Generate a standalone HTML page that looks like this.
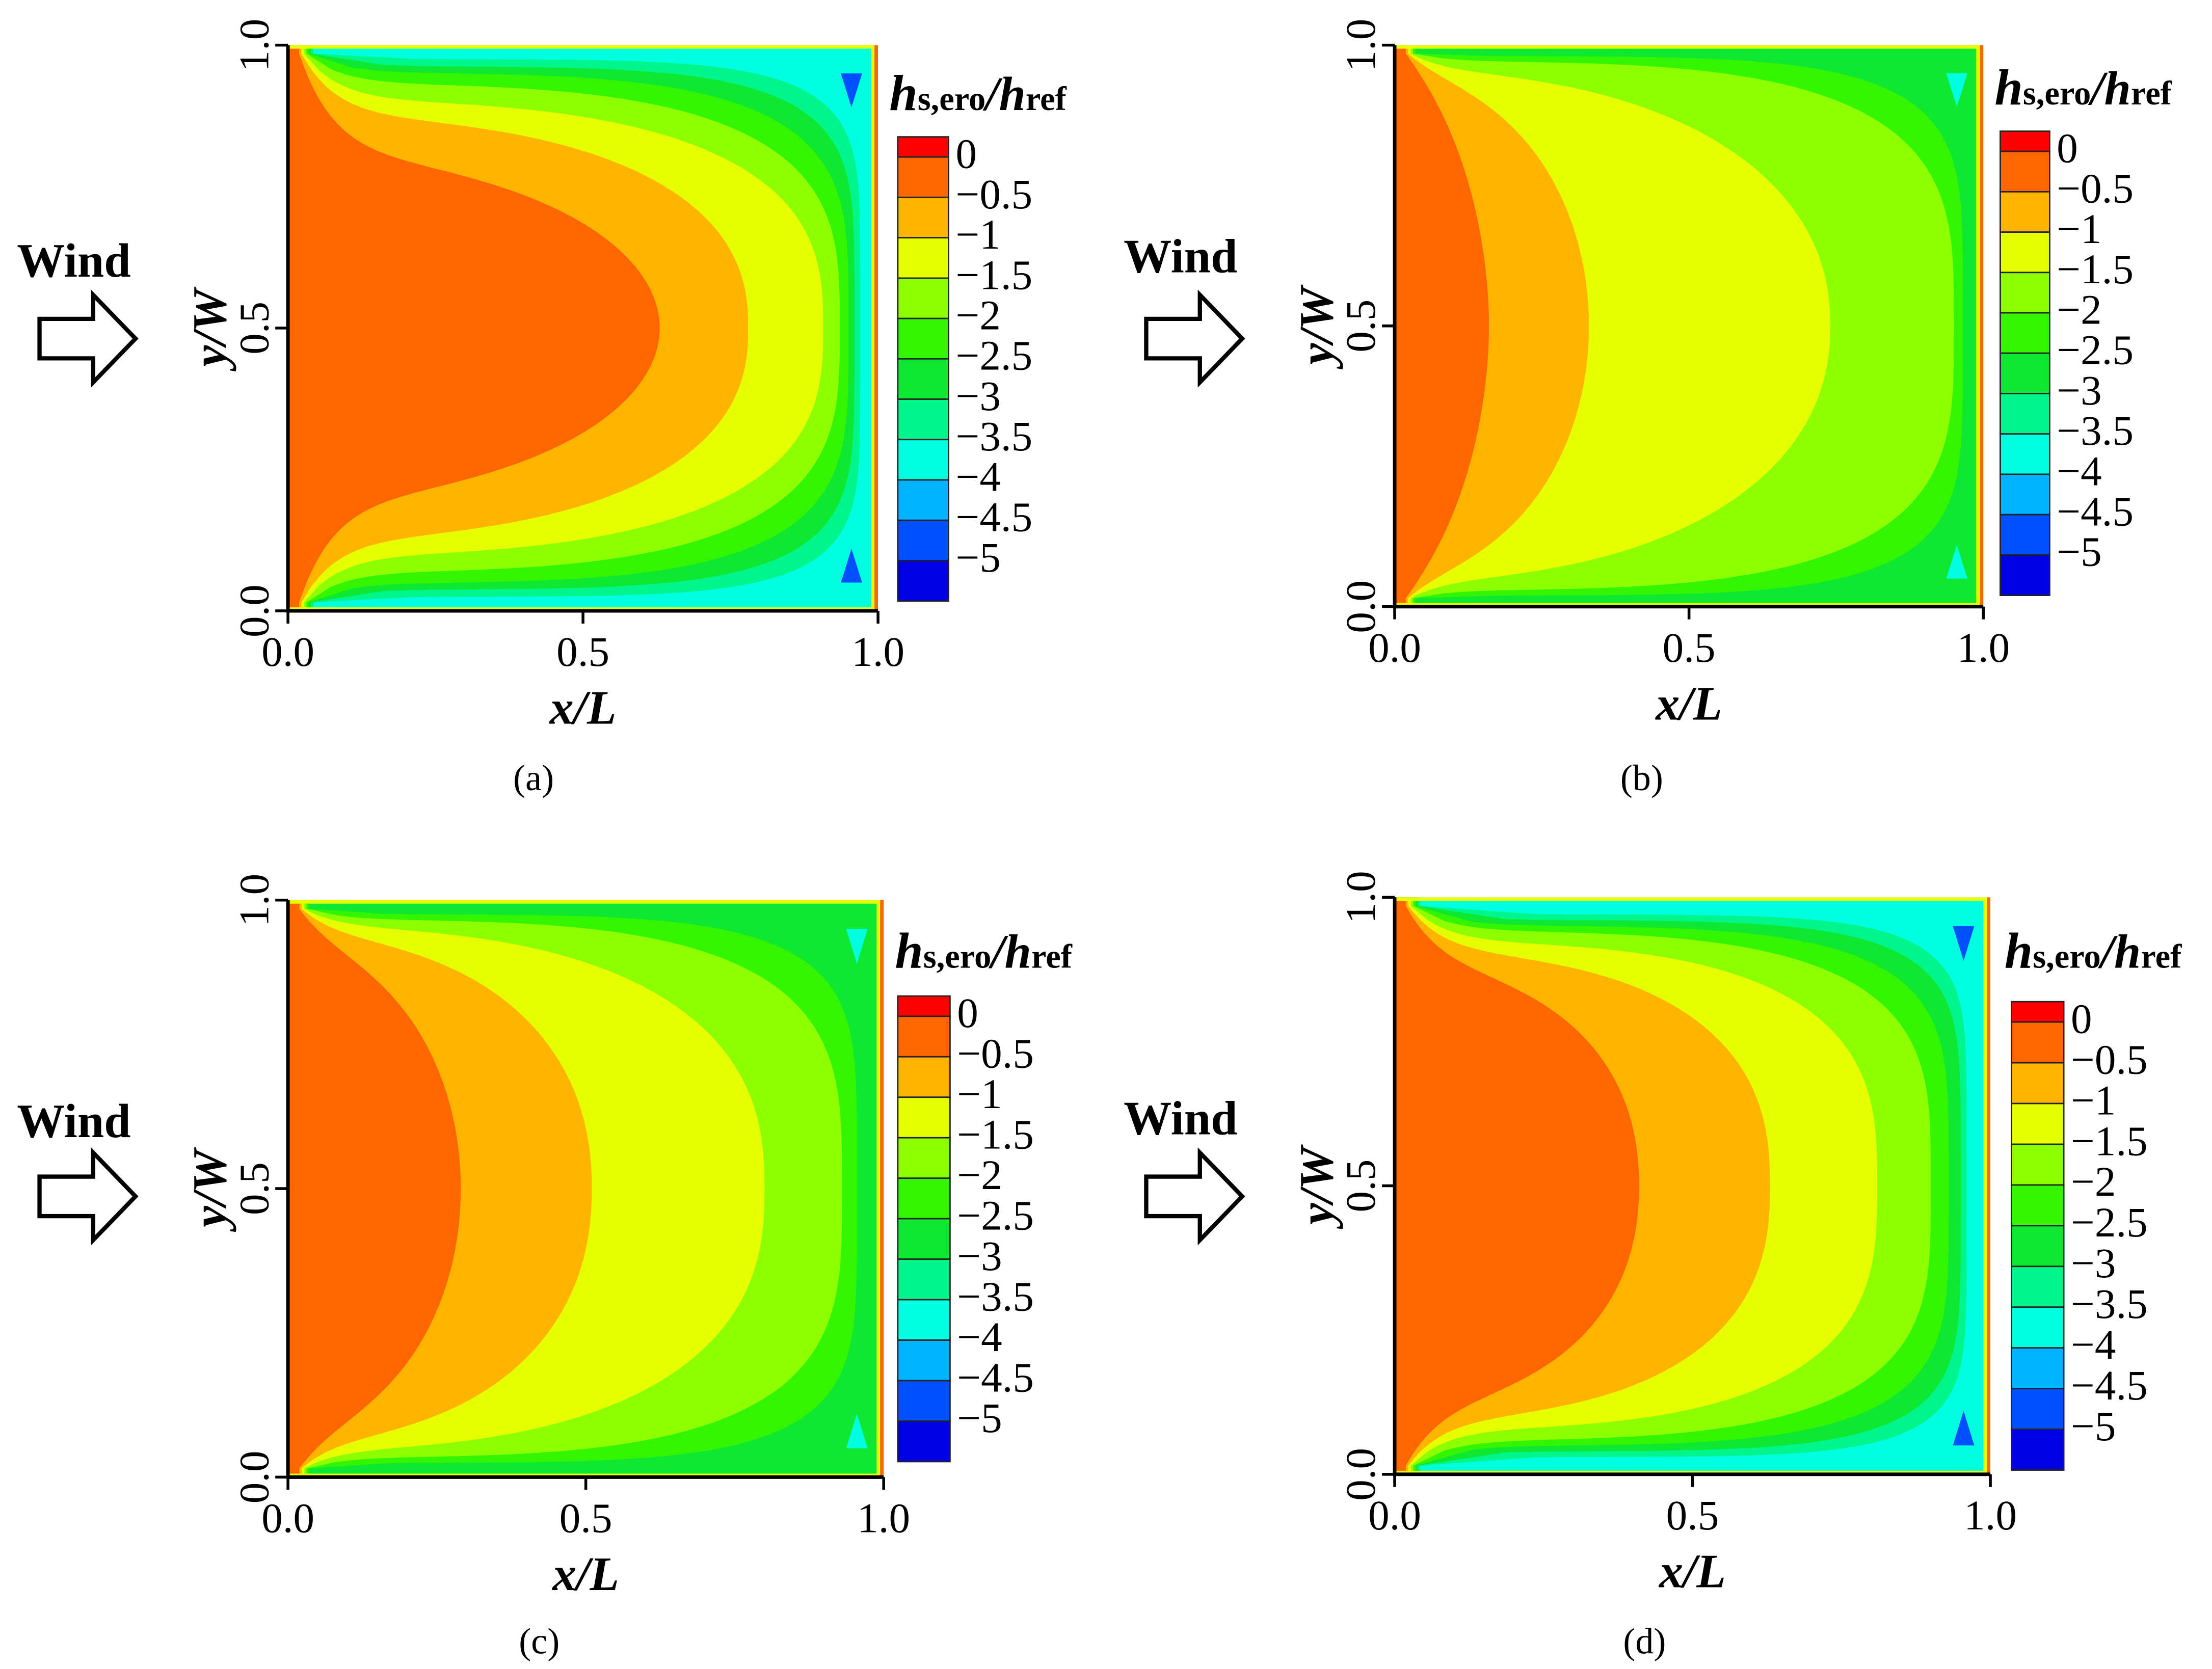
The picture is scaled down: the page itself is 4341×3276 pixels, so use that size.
<!DOCTYPE html>
<html><head><meta charset="utf-8"><style>
html,body{margin:0;padding:0;background:#fff;}
svg{display:block;}
text{font-family:"Liberation Serif",serif;fill:#000;}
</style></head><body>
<svg id="fig" width="4341" height="3276" viewBox="0 0 1567 1183" preserveAspectRatio="none" xmlns="http://www.w3.org/2000/svg"></svg>
<script>
// Colour levels (0 to -5 by -0.5, plus the lowest band)
const levelColors = ["#ff0000","#ff6600","#ffb400","#e6ff00","#8cff00","#33f500","#0ee830","#00f58a","#00ffe0","#00b4ff","#0050ff","#0000e6"];
const levelLabels = ["0","\u22120.5","\u22121","\u22121.5","\u22122","\u22122.5","\u22123","\u22123.5","\u22124","\u22124.5","\u22125"];
const tickLabels = ["0.0","0.5","1.0"];
const tickValues = [0,0.5,1];
// Contour boundaries per panel: tip x/L at y/W=0.5, shoulder y/W, shape exponent, for levels 1..(bg-1)
const bgLevelA = 8;
const tipsA = [0.63,0.78,0.907,0.935,0.95,0.96,0.97];
const shouldersA = [0.80,0.87,0.90,0.93,0.95,0.962,0.975];
const expA = [2.0,2.4,2.8,3.3,4,5,6];
const bgLevelB = 6;
const tipsB = [0.16,0.33,0.74,0.95,0.965];
const shouldersB = [0.90,0.93,0.95,0.97,0.98];
const expB = [1.8,2,2.2,3.5,5];
const bgLevelC = 6;
const tipsC = [0.29,0.51,0.80,0.93,0.955];
const shouldersC = [0.90,0.93,0.95,0.965,0.975];
const expC = [2,2.2,2.5,3.5,5];
const bgLevelD = 8;
const tipsD = [0.41,0.63,0.81,0.90,0.93,0.95,0.96];
const shouldersD = [0.87,0.90,0.92,0.94,0.95,0.96,0.97];
const expD = [2.2,2.5,3,3.6,4.5,5.5,6.5];
// corner spot level per panel
const spotLevels = [10,8,8,10];

const NS="http://www.w3.org/2000/svg";
const svg=document.getElementById('fig');
function el(tag,attrs,parent){const e=document.createElementNS(NS,tag);for(const k in attrs)e.setAttribute(k,attrs[k]);(parent||svg).appendChild(e);return e;}

const panels=[
 {id:'a',x0:204,x1:622,y0:32,y1:433,cb:[636,97,36,329],title:[630,78],wind:[12,196],arrow:[28,240],cap:[378,560],bg:bgLevelA,tips:tipsA,sh:shouldersA,ex:expA,spot:spotLevels[0]},
 {id:'b',x0:988,x1:1405,y0:32,y1:430,cb:[1417,93,35,329],title:[1413,74],wind:[796,193],arrow:[812,240],cap:[1163,560],bg:bgLevelB,tips:tipsB,sh:shouldersB,ex:expB,spot:spotLevels[1]},
 {id:'c',x0:204,x1:626,y0:638,y1:1047,cb:[636,706,37,330],title:[634,686],wind:[12,806],arrow:[28,848],cap:[382,1172],bg:bgLevelC,tips:tipsC,sh:shouldersC,ex:expC,spot:spotLevels[2]},
 {id:'d',x0:988,x1:1410,y0:636,y1:1045,cb:[1425,710,37,332],title:[1420,686],wind:[796,804],arrow:[812,848],cap:[1165,1172],bg:bgLevelD,tips:tipsD,sh:shouldersD,ex:expD,spot:spotLevels[3]}
];

panels.forEach(p=>{
 const g=el('g',{});
 
 
 const X=u=>p.x0+u*(p.x1-p.x0);
 const Y=v=>p.y1-v*(p.y1-p.y0);
 const clipId='clip'+p.id;
 const cp=el('clipPath',{id:clipId},g);
 el('rect',{x:p.x0,y:p.y0,width:p.x1-p.x0,height:p.y1-p.y0},cp);
 const plot=el('g',{'clip-path':'url(#'+clipId+')'},g);
 
 
 const bgr=el('rect',{x:p.x0,y:p.y0,width:p.x1-p.x0,height:p.y1-p.y0,fill:levelColors[p.bg]},plot);
 
 
 // contour layers from deepest to shallowest
 for(let k=p.tips.length;k>=1;k--){
  const t=p.tips[k-1], s=p.sh[k-1], n=p.ex[k-1], c=0.015+0.004*k, w=0.06;
  const top=[];
  const N=240;
  for(let i=0;i<=N;i++){
   const th=(i/N)*Math.PI/2;
   const x=c+(t-c)*Math.pow(Math.sin(th),2/n);
   let h=(s-0.5)*Math.pow(Math.cos(th),2/n);
   h+=(0.985-s)*Math.exp(-(x-c)/w);
   top.push([x,Math.min(h,0.485)]);
  }
  let d=`M${X(0)},${Y(1)} L${X(c)},${Y(1)}`;
  top.forEach(q=>{d+=` L${X(q[0]).toFixed(1)},${Y(0.5+q[1]).toFixed(1)}`;});
  for(let i=top.length-1;i>=0;i--){d+=` L${X(top[i][0]).toFixed(1)},${Y(0.5-top[i][1]).toFixed(1)}`;}
  d+=` L${X(c)},${Y(0)} L${X(0)},${Y(0)} Z`;
  const path=el('path',{d:d,fill:levelColors[k]},plot);
  
  
 }
 // corner spots
 [[0.955,0.95,-1],[0.955,0.05,1]].forEach(s=>{
  const sp=el('path',{d:`M${X(s[0]-0.018)},${Y(s[1])} L${X(s[0]+0.018)},${Y(s[1])} L${X(s[0])},${Y(s[1]+s[2]*0.06)} Z`,fill:levelColors[p.spot]},plot);
  
  
 });
 // edge strips
 el('rect',{x:p.x0,y:p.y0,width:p.x1-p.x0,height:2.5,fill:levelColors[3]},plot);
 el('rect',{x:p.x0,y:p.y1-2.5,width:p.x1-p.x0,height:2.5,fill:levelColors[3]},plot);
 el('rect',{x:p.x1-5,y:p.y0,width:2.5,height:p.y1-p.y0,fill:levelColors[3]},plot);
 el('rect',{x:p.x1-2.5,y:p.y0,width:2.5,height:p.y1-p.y0,fill:levelColors[1]},plot);
 // axes
 const ax=el('path',{d:`M${p.x0},${p.y0} L${p.x0},${p.y1} L${p.x1},${p.y1}`,fill:'none',stroke:'#000','stroke-width':2.5},g);
 
 
 tickValues.forEach((v,i)=>{
  el('line',{x1:X(v),y1:p.y1,x2:X(v),y2:p.y1+9,stroke:'#000','stroke-width':2},g);
  el('line',{x1:p.x0-9,y1:Y(v),x2:p.x0,y2:Y(v),stroke:'#000','stroke-width':2},g);
  const xt=el('text',{x:X(v),y:p.y1+39,'font-size':30,'text-anchor':'middle'},g);
  xt.textContent=tickLabels[i];
  
  
  const yt=el('text',{x:0,y:0,'font-size':30,'text-anchor':'middle',transform:`translate(${p.x0-14},${Y(v)}) rotate(-90)`},g);
  yt.textContent=tickLabels[i];
  
  
 });
 const xl=el('text',{x:(p.x0+p.x1)/2,y:p.y1+80,'font-size':34,'font-weight':'bold','font-style':'italic','text-anchor':'middle'},g);
 xl.textContent='x/L';
 
 
 const yl=el('text',{x:0,y:0,'font-size':34,'font-weight':'bold','font-style':'italic','text-anchor':'middle',transform:`translate(${p.x0-44},${(p.y0+p.y1)/2}) rotate(-90)`},g);
 yl.textContent='y/W';
 
 
 // wind label & arrow
 const w=el('text',{x:p.wind[0],y:p.wind[1],'font-size':34,'font-weight':'bold'},g);
 w.textContent='Wind';
 
 
 const a0=p.arrow[0], ay=p.arrow[1];
 const ar=el('path',{d:`M${a0},${ay-14} L${a0+38},${ay-14} L${a0+38},${ay-31} L${a0+68},${ay} L${a0+38},${ay+31} L${a0+38},${ay+14} L${a0},${ay+14} Z`,fill:'#fff',stroke:'#000','stroke-width':3},g);
 
 
 // colorbar title
 const tt=el('text',{x:p.title[0],y:p.title[1],'font-weight':'bold'},g);
 
 
 tt.innerHTML='<tspan font-size="36" font-style="italic">h</tspan><tspan font-size="24">s,ero</tspan><tspan font-size="34" font-style="italic">/h</tspan><tspan font-size="24">ref</tspan>';
 // colorbar
 const [cx,cy,cw,ch]=p.cb;
 const u=ch/11.5;
 const cbg=el('g',{},g);
 
 
 levelColors.forEach((col,i)=>{
  const top=i===0?cy:cy+(i-0.5)*u, hh=i===0?u*0.5:u;
  const r=el('rect',{x:cx,y:top,width:cw,height:hh,fill:col,stroke:'#222','stroke-width':1},cbg);
  
  
 });
 levelLabels.forEach((lab,i)=>{
  const t=el('text',{x:cx+cw+5,y:cy+(0.42+1.0*i)*u+10,'font-size':30},cbg);
  t.textContent=lab;
  
  
 });
 const cap=el('text',{x:p.cap[0],y:p.cap[1],'font-size':26,'text-anchor':'middle'},g);
 cap.textContent='('+p.id+')';
 
 
});
</script>
</body></html>
